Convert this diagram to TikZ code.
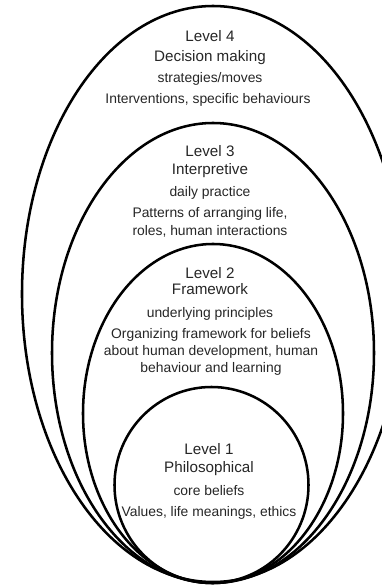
\documentclass[tikz,border=0pt]{standalone}
\usepackage{fontspec}
\setmainfont{Liberation Sans}
\begin{document}
\begin{tikzpicture}[x=.75pt, y=.75pt,
    ring/.style = {line width=1.9pt, black},
    title/.style = {anchor=base, inner sep=0pt, text=black!85, font=\fontsize{11.4}{13}\selectfont},
    sub/.style = {anchor=base, inner sep=0pt, text=black!85, font=\fontsize{10.4}{12}\selectfont}]
    \useasboundingbox (0,0) rectangle (382,586);
    % nested levels, all touching at the bottom
    \draw [ring] (213,292) ellipse [x radius=191, y radius=288];
    \draw [ring] (213,233) ellipse [x radius=161, y radius=230];
    \draw [ring] (213,172.5) ellipse [x radius=130, y radius=169.5];
    \draw [ring] (211.5,101) ellipse [x radius=97, y radius=98];
    % level 4
    \node [title] (lvfour) at (210,544) {Level 4};
    \node [title] (lvfourname) at (210,524) {Decision making};
    \node [sub] (lvfourkey) at (210,503) {strategies/moves};
    \node [sub] (lvfourtext) at (208,482) {Interventions, specific behaviours};
    % level 3
    \node [title] (lvthree) at (210,429) {Level 3};
    \node [title] (lvthreename) at (210,411) {Interpretive};
    \node [sub] (lvthreekey) at (210,389) {daily practice};
    \node [sub] (lvthreetexta) at (210,368) {Patterns of arranging life,};
    \node [sub] (lvthreetextb) at (210,350) {roles, human interactions};
    % level 2
    \node [title] (lvtwo) at (210,307) {Level 2};
    \node [title] (lvtwoname) at (210,291) {Framework};
    \node [sub] (lvtwokey) at (210,268) {underlying principles};
    \node [sub] (lvtwotexta) at (211,247) {Organizing framework for beliefs};
    \node [sub] (lvtwotextb) at (211,230) {about human development, human};
    \node [sub] (lvtwotextc) at (211,213) {behaviour and learning};
    % level 1
    \node [title] (lvone) at (209,131) {Level 1};
    \node [title] (lvonename) at (209,113) {Philosophical};
    \node [sub] (lvonekey) at (209,90) {core beliefs};
    \node [sub] (lvonetext) at (209,69) {Values, life meanings, ethics};
\end{tikzpicture}
\end{document}
